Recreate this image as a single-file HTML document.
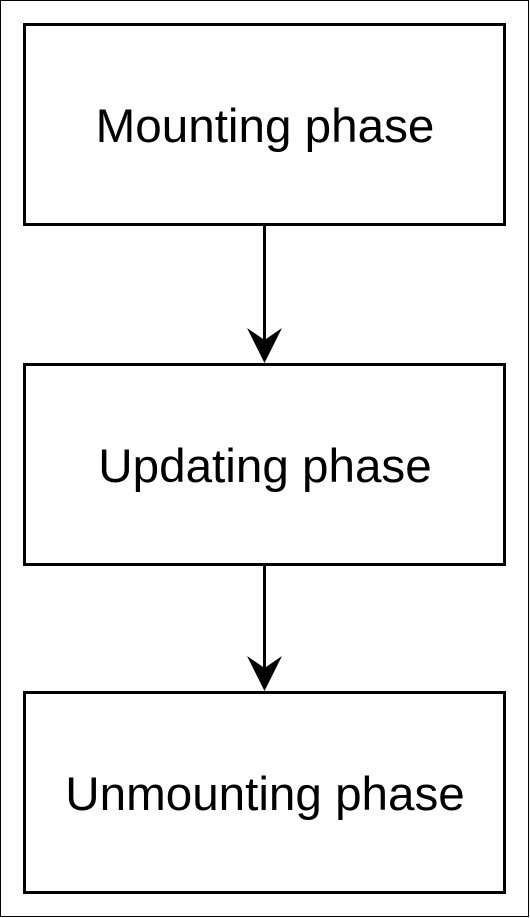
<!DOCTYPE html>
<html><head><style>
html,body{margin:0;padding:0;background:#fff;}
svg{display:block;}
text{font-family:"Liberation Sans",Arial,sans-serif;font-size:47.6px;fill:#000;}
</style></head><body>
<svg width="530" height="918" viewBox="0 0 530 918">
<rect x="0.5" y="0.5" width="528" height="916" fill="#fff" stroke="#000" stroke-width="1"/>
<rect x="24.5" y="24.5" width="480" height="200" fill="#fff" stroke="#000" stroke-width="3"/>
<rect x="24.5" y="364.5" width="480" height="200" fill="#fff" stroke="#000" stroke-width="3"/>
<rect x="24.5" y="692.5" width="480" height="200" fill="#fff" stroke="#000" stroke-width="3"/>
<line x1="264.5" y1="226" x2="264.5" y2="340" stroke="#000" stroke-width="3"/>
<polygon points="247,328 264.5,340 282,328 264.5,363" fill="#000"/>
<line x1="264.5" y1="566" x2="264.5" y2="668" stroke="#000" stroke-width="3"/>
<polygon points="247,656 264.5,668 282,656 264.5,691" fill="#000"/>
<text x="265" y="142" text-anchor="middle">Mounting phase</text>
<text x="265" y="482" text-anchor="middle">Updating phase</text>
<text x="265" y="810" text-anchor="middle">Unmounting phase</text>
</svg>
</body></html>
